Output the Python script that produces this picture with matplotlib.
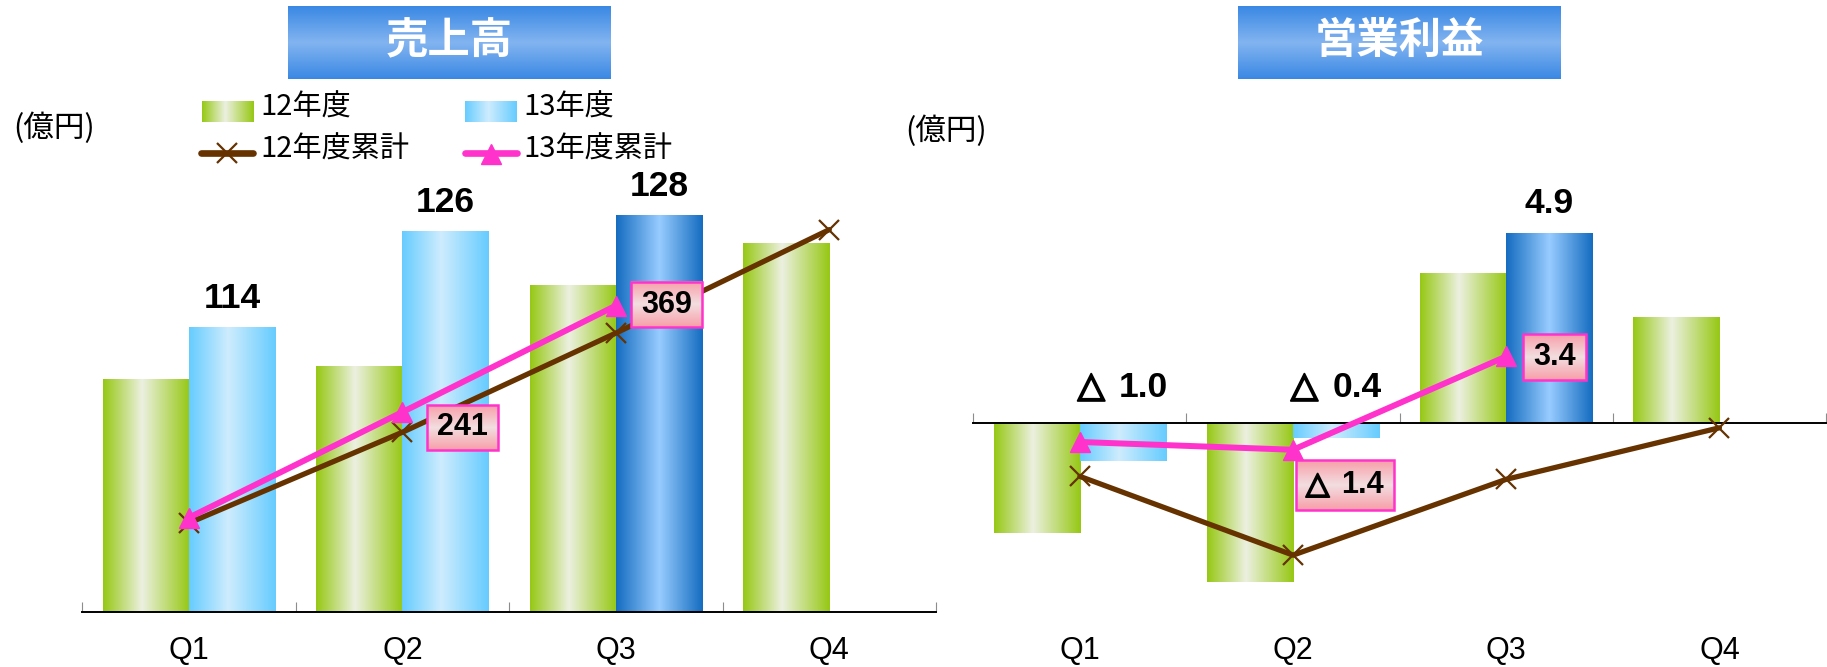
import numpy as np
import matplotlib
matplotlib.use("Agg")
import matplotlib.pyplot as plt
import matplotlib.patheffects as pe
from matplotlib.patches import Rectangle

plt.rcParams['font.family'] = ['Liberation Sans', 'DejaVu Sans', 'Noto Sans CJK JP']
CJK = ['Noto Sans CJK JP', 'DejaVu Sans']

W, H, DPI = 1827, 667, 100
PT = DPI / 72.0  # pixels per point

quarters = ["Q1", "Q2", "Q3", "Q4"]

# 売上高 (億円)
sales_12 = [107.5, 109.2, 119.3, 124.5]
sales_13 = [114, 126, 128]
sales_cum_12 = [107.5, 216.7, 336.0, 460.5]
sales_cum_13 = [114, 241, 369]

# 営業利益 (億円)
profit_12 = [-2.85, -4.12, 3.87, 2.73]
profit_13 = [-1.0, -0.4, 4.9]
profit_cum_12 = [-2.77, -6.82, -2.92, -0.27]
profit_cum_13 = [-1.0, -1.4, 3.4]

legend_labels = ["12年度", "13年度", "12年度累計", "13年度累計"]

BROWN = '#663300'
PINK = '#FF33CC'
GREEN_STOPS = [(0.0, (150, 200, 20)), (0.45, (236, 240, 224)), (1.0, (150, 200, 20))]
LIGHT_BLUE_STOPS = [(0.0, (102, 204, 255)), (0.45, (206, 236, 253)), (1.0, (102, 204, 255))]
DARK_BLUE_STOPS = [(0.0, (20, 108, 192)), (0.5, (152, 204, 255)), (1.0, (20, 108, 192))]
PINK_BOX_STOPS = [(0.0, (248, 158, 168)), (0.5, (242, 222, 224)), (1.0, (248, 158, 168))]
TITLE_STOPS = [(0.0, (58, 136, 228)), (0.5, (130, 180, 240)), (1.0, (58, 136, 228))]


def ramp(stops, n=256):
    pos = [s[0] for s in stops]
    cols = np.array([s[1] for s in stops], float) / 255.0
    t = np.linspace(0, 1, n)
    return np.stack([np.interp(t, pos, cols[:, k]) for k in range(3)], axis=-1)


def hgrad(stops):
    return ramp(stops)[None, :, :]


def vgrad(stops):
    return ramp(stops)[:, None, :]


fig = plt.figure(figsize=(W / DPI, H / DPI), dpi=DPI)
fig.patch.set_facecolor('white')
renderer = fig.canvas.get_renderer()


def px_axes(x0, y0, x1, y1, **kw):
    return fig.add_axes([x0 / W, 1 - y1 / H, (x1 - x0) / W, (y1 - y0) / H], **kw)


def number_label(ax, cx, cy, v, decimals, fontsize, va, zorder):
    """Bold value label centred at display point (cx, cy); negatives get a △ prefix."""
    inv = ax.transData.inverted()
    num = f"{abs(v):.{decimals}f}"
    style = dict(fontsize=fontsize, fontweight='bold', va=va, zorder=zorder)
    if v >= 0:
        t = ax.text(*inv.transform((cx, cy)), num, ha='center', **style)
        return [t.get_window_extent(renderer)]
    tri = ax.text(0, 0, "△", ha='left', family=['DejaVu Sans'],
                  path_effects=[pe.withStroke(linewidth=1.4, foreground='black')], **style)
    nt = ax.text(0, 0, num, ha='left', **style)
    w_tri = tri.get_window_extent(renderer).width
    w_num = nt.get_window_extent(renderer).width
    gap = 0.4 * fontsize * PT
    left = cx - (w_tri + gap + w_num) / 2
    tri.set_position(inv.transform((left, cy)))
    nt.set_position(inv.transform((left + w_tri + gap, cy)))
    return [tri.get_window_extent(renderer), nt.get_window_extent(renderer)]


def draw_chart(rect, ylim, ylim2, base, prev, curr, cum_prev, cum_curr, decimals, boxes):
    x0p, y0p, x1p, y1p = rect
    ax = px_axes(*rect)
    ax.set_facecolor('none')
    ax.set_xlim(-0.5, 3.5)
    ax.set_ylim(*ylim)
    ax.set_autoscale_on(False)
    width = 0.404
    bottom = ylim[0] if base is None else base
    x = np.arange(len(quarters))

    def gradient_bars(xs, vals, stops_list):
        for xi, v, st in zip(xs, vals, stops_list):
            lo, hi = sorted((bottom, v))
            ax.imshow(hgrad(st), extent=(xi, xi + width, lo, hi), aspect='auto',
                      interpolation='bilinear', zorder=2)

    gradient_bars(x[:len(prev)] - width, prev, [GREEN_STOPS] * len(prev))
    curr_stops = [LIGHT_BLUE_STOPS] * (len(curr) - 1) + [DARK_BLUE_STOPS]
    gradient_bars(x[:len(curr)], curr, curr_stops)
    ax.set_xlim(-0.5, 3.5)
    ax.set_ylim(*ylim)

    for s in ['top', 'left', 'right']:
        ax.spines[s].set_visible(False)
    ax.spines['bottom'].set_linewidth(1.4)
    ax.spines['bottom'].set_color('black')
    ax.spines['bottom'].set_zorder(3)
    if base is not None:
        ax.spines['bottom'].set_position(('data', base))
    ax.set_yticks([])
    ax.set_xticks(np.arange(-0.5, 4.0, 1.0))
    ax.set_xticklabels([])
    ax.tick_params(axis='x', direction='in', length=7.5, width=0.8, color='#8c8c8c')

    label_y = (y1p - 651) / (y1p - y0p)
    for i, q in enumerate(quarters):
        ax.text(i, label_y, q, transform=ax.get_xaxis_transform(), ha='center',
                va='center', fontsize=22, clip_on=False)

    # value labels on the current-year bars
    for i, v in enumerate(curr):
        px, py = ax.transData.transform((i + width / 2, max(v, 0)))
        lift = 20 if v >= 0 else 26
        number_label(ax, px, py + lift, v, decimals, 25.5, 'baseline', 6)

    ax2 = ax.twinx()
    ax2.set_facecolor('none')
    ax2.set_ylim(*ylim2)
    ax2.set_xlim(-0.5, 3.5)
    ax2.set_autoscale_on(False)
    for s in ax2.spines.values():
        s.set_visible(False)
    ax2.set_yticks([])
    ax2.plot(x[:len(cum_prev)], cum_prev, color=BROWN, lw=3.8, marker='x', ms=14,
             mew=1.6, solid_capstyle='round', zorder=3)
    ax2.plot(x[:len(cum_curr)], cum_curr, color=PINK, lw=4.3, marker='^', ms=14,
             mec=PINK, solid_capstyle='round', zorder=4)

    # boxed labels for cumulative values
    inv = ax2.transData.inverted()
    for i, (dx, dy, hh) in boxes.items():
        v = cum_curr[i]
        px, py = ax2.transData.transform((i, v))
        cx, cy = px + dx, py - dy
        extents = number_label(ax2, cx, cy, v, decimals, 22, 'center', 8)
        left = min(e.x0 for e in extents)
        right = max(e.x1 for e in extents)
        bx0, by0 = inv.transform((left - 10, cy - hh / 2))
        bx1, by1 = inv.transform((right + 10, cy + hh / 2))
        ax2.imshow(vgrad(PINK_BOX_STOPS), extent=(bx0, bx1, by0, by1), aspect='auto',
                   interpolation='bilinear', zorder=6)
        ax2.add_patch(Rectangle((bx0, by0), bx1 - bx0, by1 - by0, fill=False,
                                ec=PINK, lw=1.8, zorder=7))
    ax2.set_xlim(-0.5, 3.5)
    ax2.set_ylim(*ylim2)
    return ax, ax2


# left: 売上高
draw_chart((82.3, 100, 936, 612.3), (78.46, 142.5), (0, 616.5), None,
           sales_12, sales_13, sales_cum_12, sales_cum_13, 0,
           {1: (60, 15, 45), 2: (51, -1, 45)})

# right: 営業利益
draw_chart((973.3, 100, 1826, 615), (-4.987, 8.355), (-9.90, 16.59), 0,
           profit_12, profit_13, profit_cum_12, profit_cum_13, 1,
           {1: (52, 35, 50), 2: (48, 1, 46)})

# overlay in pixel coordinates for titles and legend
ov = fig.add_axes([0, 0, 1, 1])
ov.set_xlim(0, W)
ov.set_ylim(H, 0)
ov.axis('off')
ov.set_autoscale_on(False)

for (bx0, bx1), title in [((288.3, 610.7), "売上高"), ((1238, 1560.6), "営業利益")]:
    ov.imshow(vgrad(TITLE_STOPS), extent=(bx0, bx1, 79, 6.7), aspect='auto',
              interpolation='bilinear')
    ov.text((bx0 + bx1) / 2, 41, title, color='white', fontsize=30.5, fontweight='bold',
            ha='center', va='center', family=CJK)

ov.text(54, 128, "(億円)", fontsize=22, ha='center', va='center', family=CJK)
ov.text(946, 131, "(億円)", fontsize=22, ha='center', va='center', family=CJK)

# legend
ov.imshow(hgrad(GREEN_STOPS), extent=(202, 254, 122, 101), aspect='auto',
          interpolation='bilinear')
ov.imshow(hgrad(LIGHT_BLUE_STOPS), extent=(465, 517, 122, 101), aspect='auto',
          interpolation='bilinear')
ov.plot([201, 253], [153, 153], color=BROWN, lw=4.8, solid_capstyle='round')
ov.plot([227], [153], color=BROWN, marker='x', ms=14, mew=1.6)
ov.plot([465, 517], [153, 153], color=PINK, lw=4.8, solid_capstyle='round')
ov.plot([491], [154], color=PINK, marker='^', ms=14)
for (tx, ty), lab in zip([(260, 108), (523, 108), (260, 150), (523, 150)], legend_labels):
    ov.text(tx, ty, lab, fontsize=21, ha='left', va='center', family=CJK)

fig.savefig('out.png', dpi=DPI)
